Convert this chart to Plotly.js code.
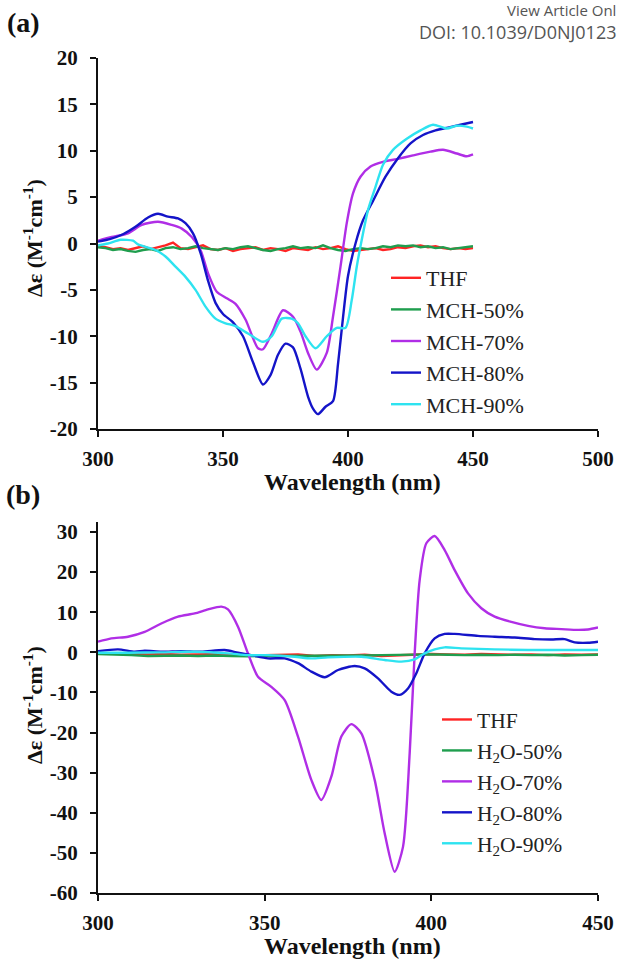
<!DOCTYPE html>
<html><head><meta charset="utf-8">
<script src="https://cdn.plot.ly/plotly-3.0.1.min.js"></script>
<style>body{margin:0;background:#fff}#chart{width:618px;height:962px}</style>
</head><body><div id="chart"></div>
<script>
// ---------- Panel (a): MCH series ----------
const namesA = ["THF", "MCH-50%", "MCH-70%", "MCH-80%", "MCH-90%"];
const wl3 = [300,303,306,309,312,315,318,321,324,327,330,333,336,339,342,345,348,351,354,357,360,363,366,369,372,375,378,381,384,387,390,393,396,399,402,405,408,411,414,417,420,423,426,429,432,435,438,441,444,447,450];
const aTHF = [-0.3,-0.4,-0.6,-0.5,-0.7,-0.5,-0.3,-0.6,-0.4,-0.2,0.1,-0.5,-0.6,-0.4,-0.2,-0.6,-0.7,-0.5,-0.8,-0.6,-0.5,-0.4,-0.7,-0.5,-0.6,-0.8,-0.5,-0.6,-0.7,-0.4,-0.6,-0.5,-0.3,-0.6,-0.8,-0.7,-0.6,-0.5,-0.7,-0.6,-0.4,-0.5,-0.3,-0.2,-0.4,-0.3,-0.5,-0.6,-0.5,-0.6,-0.5];
const aMCH50 = [-0.4,-0.5,-0.7,-0.6,-0.8,-0.9,-0.7,-0.6,-0.8,-0.5,-0.4,-0.6,-0.5,-0.3,-0.5,-0.6,-0.7,-0.5,-0.6,-0.4,-0.3,-0.5,-0.7,-0.8,-0.6,-0.5,-0.3,-0.5,-0.4,-0.5,-0.2,-0.5,-0.7,-0.8,-0.6,-0.5,-0.6,-0.5,-0.3,-0.4,-0.2,-0.3,-0.2,-0.4,-0.3,-0.5,-0.4,-0.6,-0.5,-0.4,-0.3];
const aMCH70x = [300,305.5,312,317.5,324,329.5,333.5,337.5,341,344,347.5,351.5,355,359,364,366,369.5,374,378,381,384,387.5,391.5,394,397,399.5,402,405,409,414,419.5,426,433,438,443.5,447.5,450];
const aMCH70 = [0.3,0.7,1.1,2.0,2.35,2.0,1.6,0.7,-0.7,-3.2,-5.2,-5.9,-6.5,-8.2,-11.3,-11.4,-9.7,-7.2,-7.9,-9.5,-11.8,-13.6,-11.8,-7.9,-2.5,2.2,5.4,7.2,8.3,8.8,9.1,9.5,9.9,10.1,9.7,9.4,9.6];
const aMCH80x = [300,305,310,315,320,324,328,332,335,338,341,344,347,350,354,358,362,366,369,372,375,378,381,384,386,388,391,394,396,398,400,403,406,410,415,420,425,430,435,440,445,450];
const aMCH80 = [0.2,0.5,1.0,1.8,2.8,3.2,2.9,2.7,2.2,1.1,-1.0,-4.0,-6.4,-7.6,-8.5,-10.0,-12.8,-15.2,-14.2,-12.0,-10.8,-11.2,-13.5,-16.5,-17.8,-18.4,-17.6,-17.0,-13.0,-8.0,-3.5,0,2.5,4.6,7.2,9.2,10.8,11.7,12.2,12.5,12.8,13.1];
const aMCH90x = [300,304,309,314,316,323,327,331,335,339,343,347,351,355,360,366,369.5,373.5,377.5,380,383,387,391.5,395.5,399,401.5,403.5,405.5,408,411,414,418,423.5,429,434,439.5,443.5,447.5,450];
const aMCH90 = [-0.2,0,0.4,0.3,-0.1,-0.7,-1.4,-2.5,-3.6,-5.0,-6.8,-8.1,-8.6,-8.9,-9.7,-10.6,-10.0,-8.1,-8.1,-8.6,-10.0,-11.3,-10.0,-9.1,-9.1,-6.1,-2.5,0.4,3.6,6.1,8.5,10.1,11.3,12.2,12.8,12.4,12.7,12.6,12.4];

// ---------- Panel (b): H2O series ----------
const namesB = ["THF", "H<sub>2</sub>O-50%", "H<sub>2</sub>O-70%", "H<sub>2</sub>O-80%", "H<sub>2</sub>O-90%"];
const wl5 = [300,305,310,315,320,325,330,335,340,345,350,355,360,365,370,375,380,385,390,395,400,405,410,415,420,425,430,435,440,445,450];
const bTHF = [-0.2,-0.3,-0.4,-0.5,-0.4,-0.6,-0.5,-0.4,-0.6,-0.8,-0.7,-0.6,-0.5,-0.9,-0.7,-0.8,-0.6,-0.9,-0.7,-0.5,-0.4,-0.5,-0.6,-0.4,-0.5,-0.6,-0.5,-0.7,-0.5,-0.6,-0.5];
const bH2O50 = [-0.4,-0.5,-0.7,-0.9,-0.8,-0.8,-0.9,-0.8,-0.9,-1.0,-0.9,-0.9,-0.8,-0.9,-0.8,-0.8,-0.8,-0.7,-0.6,-0.5,-0.5,-0.6,-0.7,-0.6,-0.7,-0.6,-0.7,-0.6,-0.8,-0.7,-0.6];
const bH2O70x = [300,304,309,314,319,324,329,333,337,339,342,345,348,352,356,360,364,367,370,373,376,379,383,386,389,391.5,393.5,395,396.5,398.5,401,404,407,411,415,419,424,429,434,439,444,447,450];
const bH2O70 = [2.65,3.5,3.9,5.1,7.2,8.9,9.7,10.7,11.4,10.7,6.4,-0.3,-6.1,-8.6,-11.9,-21,-31.8,-36.8,-31.0,-21,-17.9,-20.2,-31.8,-45.1,-54.7,-48.5,-25.2,-0.3,18.0,27.2,29.0,25.5,20.5,14.7,11.0,8.9,7.6,6.6,6.0,5.8,5.6,5.7,6.2];
const bH2O80x = [300,306,311,314,319,325,331,338,342,346,351,356,360,364,368,372,377,380,384,388,390.5,393,395.5,398,401,404,407,414,419,425,431,436,440,443,447,450];
const bH2O80 = [0.3,0.75,0.16,0.4,0.16,0.3,0.16,0.57,-0.1,-0.7,-1.5,-1.5,-2.7,-4.8,-6.2,-4.4,-3.4,-4.0,-6.5,-9.8,-10.6,-9.0,-5.2,-0.25,3.5,4.6,4.6,4.1,3.9,3.7,3.3,3.2,3.3,2.5,2.4,2.65];
const bH2O90x = [300,309,319,329,339,345,351,359,364,369,379,386,391,395,398,401,404,409,419,429,439,450];
const bH2O90 = [-0.1,-0.1,0,0.16,-0.25,-0.7,-0.7,-1.1,-1.5,-1.25,-1.1,-1.9,-2.3,-1.75,-0.25,0.75,1.25,1.0,0.75,0.6,0.6,0.6];

// ---------- Ticks ----------
const xTicksA = [300,350,400,450,500];
const xTicksB = [300,350,400,450];
const yTicksA = [-20,-15,-10,-5,0,5,10,15,20];
const yTicksB = [-60,-50,-40,-30,-20,-10,0,10,20,30];
const lbl = v => String(v); // plain hyphen minus as in the original

const colors = ["#ff2424", "#1f9e4e", "#b02ee6", "#1414c8", "#2ee3f0"];

const W = 618, H = 962;
const px = x => x / W, py = y => 1 - y / H;
const serif = 'Liberation Serif, Times New Roman, DejaVu Serif, serif';
const sans = 'Open Sans, Noto Sans, sans-serif';

function tr(x, y, name, color, xa, ya, legend, smooth) {
  return {x, y, name, type: 'scatter', mode: 'lines',
    line: {color, width: 2.4, shape: smooth ? 'spline' : 'linear', smoothing: 0.7},
    xaxis: xa, yaxis: ya, legend, hoverinfo: 'skip'};
}

const data = [
  tr(wl3, aTHF, namesA[0], colors[0], 'x', 'y', 'legend', false),
  tr(wl3, aMCH50, namesA[1], colors[1], 'x', 'y', 'legend', false),
  tr(aMCH70x, aMCH70, namesA[2], colors[2], 'x', 'y', 'legend', true),
  tr(aMCH80x, aMCH80, namesA[3], colors[3], 'x', 'y', 'legend', true),
  tr(aMCH90x, aMCH90, namesA[4], colors[4], 'x', 'y', 'legend', true),
  tr(wl5, bTHF, namesB[0], colors[0], 'x2', 'y2', 'legend2', false),
  tr(wl5, bH2O50, namesB[1], colors[1], 'x2', 'y2', 'legend2', false),
  tr(bH2O70x, bH2O70, namesB[2], colors[2], 'x2', 'y2', 'legend2', true),
  tr(bH2O80x, bH2O80, namesB[3], colors[3], 'x2', 'y2', 'legend2', true),
  tr(bH2O90x, bH2O90, namesB[4], colors[4], 'x2', 'y2', 'legend2', true)
];

const tickFont = {family: serif, size: 21, weight: 'bold', color: '#111'};
function axis(extra) {
  return Object.assign({
    ticks: 'outside', ticklen: 6, tickwidth: 2, tickcolor: '#111',
    showline: true, linewidth: 2, linecolor: '#111',
    showgrid: false, zeroline: false, tickfont: tickFont, fixedrange: true
  }, extra);
}

const legendBase = {
  xanchor: 'left', yanchor: 'top', bgcolor: 'rgba(0,0,0,0)',
  tracegroupgap: 0, itemwidth: 30
};

const ann = (text, x, y, opts) => Object.assign({
  text, x: px(x), y: py(y), xref: 'paper', yref: 'paper', showarrow: false
}, opts);

const layout = {
  width: W, height: H,
  margin: {l: 0, r: 0, t: 0, b: 0},
  paper_bgcolor: '#fff', plot_bgcolor: '#fff',
  font: {family: serif, color: '#111'},
  showlegend: true,
  xaxis: axis({domain: [px(98), px(598)], range: [300, 500], anchor: 'y',
    tickvals: xTicksA, ticktext: xTicksA.map(lbl), ticklabelstandoff: 4}),
  yaxis: axis({domain: [py(429), py(58)], range: [-20, 20], anchor: 'x',
    tickvals: yTicksA, ticktext: yTicksA.map(lbl), ticklabelstandoff: 8}),
  xaxis2: axis({domain: [px(98), px(598)], range: [300, 450], anchor: 'y2',
    tickvals: xTicksB, ticktext: xTicksB.map(lbl), ticklabelstandoff: 4}),
  yaxis2: axis({domain: [py(893), py(522)], range: [-60, 32.5], anchor: 'x2',
    tickvals: yTicksB, ticktext: yTicksB.map(lbl), ticklabelstandoff: 8}),
  legend: Object.assign({x: px(386), y: py(257),
    font: {family: serif, size: 22, color: '#222'}}, legendBase),
  legend2: Object.assign({x: px(437), y: py(699),
    font: {family: serif, size: 21.5, color: '#222'}}, legendBase),
  annotations: [
    ann('View Article Onl', 617, 10, {xanchor: 'right', yanchor: 'middle', borderpad: 0,
      font: {family: sans, size: 15, color: '#555'}}),
    ann('DOI: 10.1039/D0NJ0123', 617, 32, {xanchor: 'right', yanchor: 'middle', borderpad: 0,
      font: {family: sans, size: 18, color: '#555'}}),
    ann('<b>(a)</b>', 23, 22, {xanchor: 'center', yanchor: 'middle',
      font: {family: serif, size: 28, color: '#111'}}),
    ann('<b>(b)</b>', 23, 494, {xanchor: 'center', yanchor: 'middle',
      font: {family: serif, size: 28, color: '#111'}}),
    ann('<b>Wavelength (nm)</b>', 352, 482, {xanchor: 'center', yanchor: 'middle',
      font: {family: serif, size: 24, color: '#111'}}),
    ann('<b>Wavelength (nm)</b>', 352, 946, {xanchor: 'center', yanchor: 'middle',
      font: {family: serif, size: 24, color: '#111'}}),
    ann('<b>Δε (M<sup>-1</sup>cm<sup>-1</sup>)</b>', 33, 238, {xanchor: 'center', yanchor: 'middle',
      textangle: -90, font: {family: serif, size: 22, color: '#111'}}),
    ann('<b>Δε (M<sup>-1</sup>cm<sup>-1</sup>)</b>', 33, 705, {xanchor: 'center', yanchor: 'middle',
      textangle: -90, font: {family: serif, size: 22, color: '#111'}})
  ]
};

Plotly.newPlot('chart', data, layout, {staticPlot: true, displayModeBar: false});
</script>
</body></html>
